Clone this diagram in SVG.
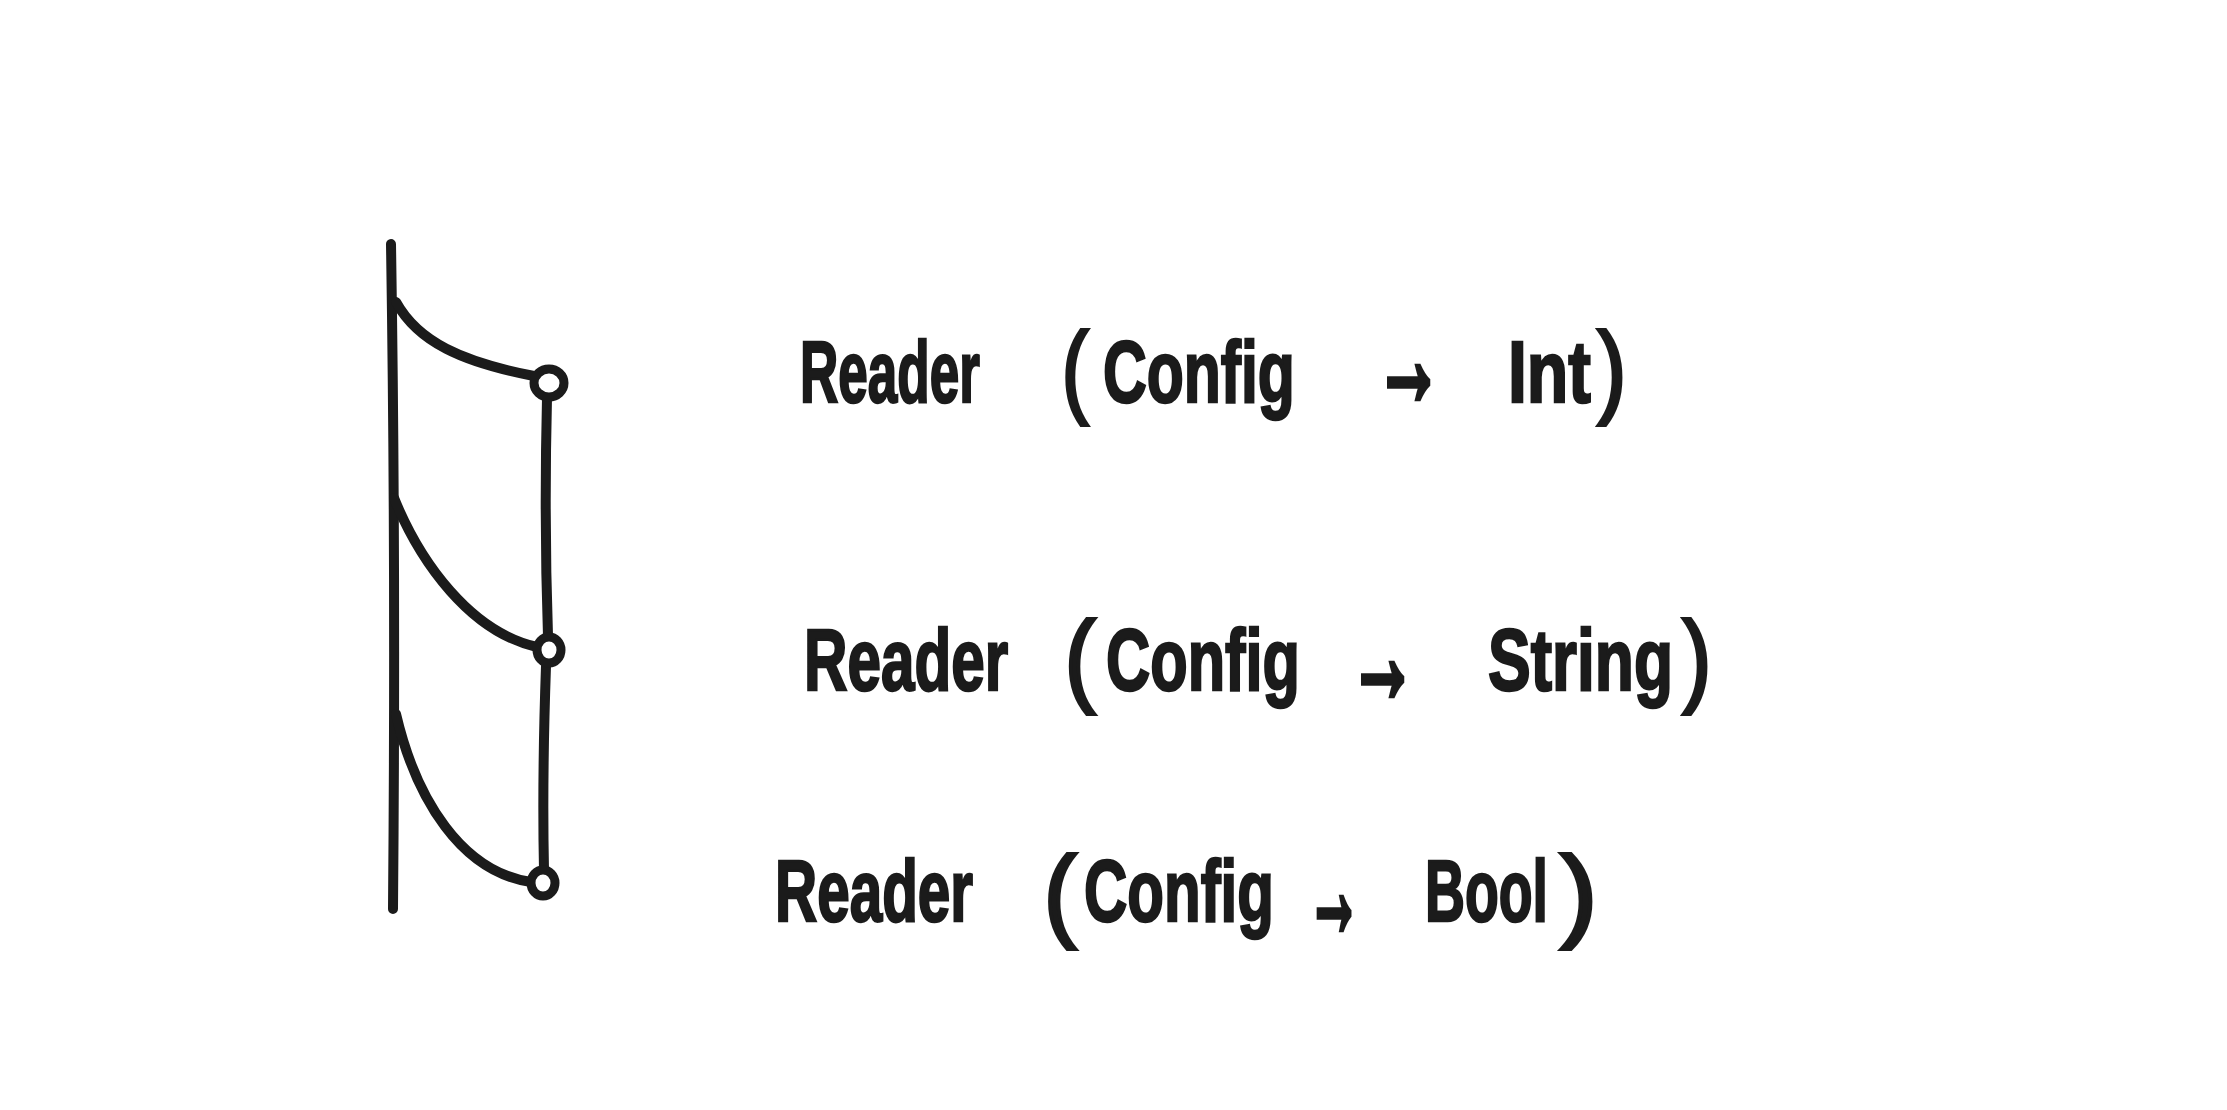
<svg xmlns="http://www.w3.org/2000/svg" width="2227" height="1110" viewBox="0 0 2227 1110">
<style>
.ln{fill:none;stroke:#1b1b1b;stroke-width:10;stroke-linecap:round;stroke-linejoin:round}
.nd{fill:#fff;stroke:#1b1b1b;stroke-width:9}
.t{font-family:"Liberation Sans",Arial,sans-serif;font-weight:bold;font-size:88px;fill:#1b1b1b;stroke:#1b1b1b;stroke-width:2.5}
.p{font-family:"Liberation Sans",Arial,sans-serif;font-size:102px;fill:#1b1b1b;stroke:#1b1b1b;stroke-width:4}
.a{font-family:"Liberation Sans",Arial,sans-serif;font-weight:bold;font-size:130px;fill:#1b1b1b;stroke:#1b1b1b;stroke-width:7}
</style>
<rect width="2227" height="1110" fill="#fff"/>
<g id="connectors">
<path class="ln" d="M391,244 Q396,560 393,909"/>
<path class="ln" d="M396,302 C418,342 462,362 534,376"/>
<path class="ln" d="M394,498 C420,562 470,632 537,647"/>
<path class="ln" d="M396,714 C416,800 462,872 531,882"/>
<path class="ln" d="M547,398 Q544,520 548,636"/>
<path class="ln" d="M546,666 Q542,780 544,870"/>
</g>
<g id="node-top"><ellipse class="nd" cx="549" cy="383" rx="15" ry="14"/></g>
<g id="node-mid"><ellipse class="nd" cx="549" cy="650" rx="12" ry="13"/></g>
<g id="node-bottom"><ellipse class="nd" cx="543" cy="883" rx="12" ry="13"/></g>
<g id="label-int">
<text class="t" transform="translate(800,402) scale(0.603,1)">Reader</text>
<text class="p" x="1062" y="404" textLength="26" lengthAdjust="spacingAndGlyphs">(</text>
<text class="t" transform="translate(1103,402) scale(0.689,1)">Config</text>
<text class="a" x="1375" y="404" textLength="67" lengthAdjust="spacingAndGlyphs">→</text>
<text class="t" transform="translate(1508,402) scale(0.772,1)">Int</text>
<text class="p" x="1598" y="404" textLength="28" lengthAdjust="spacingAndGlyphs">)</text>
</g>
<g id="label-string">
<text class="t" transform="translate(804,690) scale(0.684,1)">Reader</text>
<text class="p" x="1065" y="693" textLength="30" lengthAdjust="spacingAndGlyphs">(</text>
<text class="t" transform="translate(1106,690) scale(0.696,1)">Config</text>
<text class="a" x="1349" y="701" textLength="67" lengthAdjust="spacingAndGlyphs">→</text>
<text class="t" transform="translate(1488,690) scale(0.728,1)">String</text>
<text class="p" x="1683" y="693" textLength="28" lengthAdjust="spacingAndGlyphs">)</text>
</g>
<g id="label-bool">
<text class="t" transform="translate(775,921) scale(0.664,1)">Reader</text>
<text class="p" x="1044" y="928" textLength="32" lengthAdjust="spacingAndGlyphs">(</text>
<text class="t" transform="translate(1084,921) scale(0.682,1)">Config</text>
<text class="a" x="1307" y="935" textLength="54" lengthAdjust="spacingAndGlyphs">→</text>
<text class="t" transform="translate(1425,921) scale(0.629,1)">Bool</text>
<text class="p" x="1561" y="928" textLength="36" lengthAdjust="spacingAndGlyphs">)</text>
</g>
</svg>
